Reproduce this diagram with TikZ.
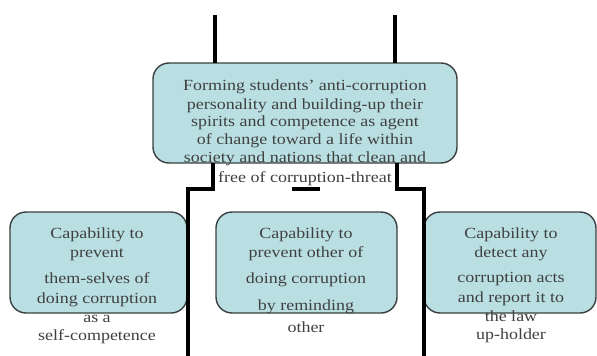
\documentclass[tikz,border=0pt]{standalone}
\usepackage{fontspec}
\setmainfont{Liberation Serif}[FakeStretch=1.16]
\usetikzlibrary{positioning}
\definecolor{boxfill}{HTML}{B9DFE3}
\definecolor{boxedge}{HTML}{3A3F40}
\definecolor{txtgray}{HTML}{404040}
\tikzset{
  capbox/.style={draw=boxedge, line width=1.4pt, fill=boxfill, rounded corners=16pt},
  captext/.style={text=txtgray, align=center, font=\fontsize{15.5}{19}\selectfont, inner sep=0pt},
  frame/.style={line width=3.6pt, black}
}

\begin{document}
\begin{tikzpicture}[x=1pt, y=-1pt]
            \useasboundingbox (0,0) rectangle (597,356);

            %Coordinates
            \coordinate (topL) at (215,15);
            \coordinate (topR) at (395,15);
            \coordinate (stepL) at (213,189);
            \coordinate (stepR) at (397,189);
            \coordinate (footL) at (188,356);
            \coordinate (footR) at (424,356);

            %Boxes
            \draw[capbox] (153,63) rectangle (457,163);
            \node at (305,63) (aim) {};
            \node at (305,163) (aimbottom) {};
            \draw[capbox] (10,212) rectangle (187,313);
            \draw[capbox] (216,212) rectangle (397,313);
            \draw[capbox] (424,212) rectangle (596,313);

            %Nodes
            \node[captext, anchor=north] at (305,80) (aimtext)
              {Forming students' anti-corruption\\[-0.6pt]
               personality and building-up their\\[-1.5pt]
               spirits and competence as agent\\[-1pt]
               of change toward a life within\\[-1pt]
               society and nations that clean and\\[1pt]
               free of corruption-threat};
            \node[captext, anchor=north] at (97,228) (selftext)
              {Capability to\\
               prevent\\[7pt]
               them-selves of\\[1pt]
               doing corruption\\
               as a\\[-1pt]
               self-competence};
            \node[captext, anchor=north] at (306,228) (othertext)
              {Capability to\\
               prevent other of\\[7pt]
               doing corruption\\[8pt]
               by reminding\\[3pt]
               other};
            \node[captext, anchor=north] at (511,228) (reporttext)
              {Capability to\\
               detect any\\[6pt]
               corruption acts\\[1pt]
               and report it to\\
               the law\\[-1pt]
               up-holder};

            %Lines
            \draw[frame] (topL) -- (topL |- aim.center);
            \draw[frame] (topR) -- (topR |- aim.center);
            \draw[frame] (stepL |- aimbottom.center) -- (stepL) -- (footL |- stepL) -- (footL);
            \draw[frame] (stepR |- aimbottom.center) -- (stepR) -- (footR |- stepR) -- (footR);
            \draw[frame] (292,189) -- (320,189);
        \end{tikzpicture}
\end{document}
